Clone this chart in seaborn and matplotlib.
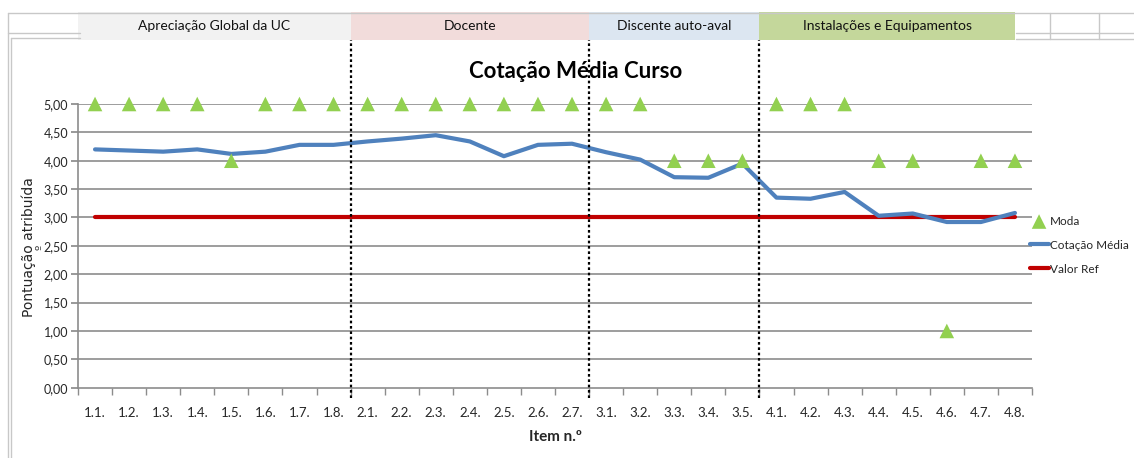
import matplotlib
matplotlib.use("Agg")
import matplotlib.pyplot as plt
import matplotlib.transforms as mtransforms
from matplotlib.patches import Rectangle
from matplotlib.lines import Line2D
import seaborn as sns
import pandas as pd

sns.set_theme(style="white")
plt.rcParams['font.family'] = ['Lato', 'DejaVu Sans']

# Data
items = ["1.1.", "1.2.", "1.3.", "1.4.", "1.5.", "1.6.", "1.7.", "1.8.",
         "2.1.", "2.2.", "2.3.", "2.4.", "2.5.", "2.6.", "2.7.",
         "3.1.", "3.2.", "3.3.", "3.4.", "3.5.",
         "4.1.", "4.2.", "4.3.", "4.4.", "4.5.", "4.6.", "4.7.", "4.8."]
cotacao_media = [4.20, 4.18, 4.16, 4.20, 4.12, 4.16, 4.28, 4.28,
                 4.34, 4.39, 4.45, 4.34, 4.08, 4.28, 4.30,
                 4.15, 4.02, 3.71, 3.70, 3.95,
                 3.35, 3.33, 3.45, 3.03, 3.07, 2.92, 2.92, 3.08]
moda = [5, 5, 5, 5, 4, 5, 5, 5,
        5, 5, 5, 5, 5, 5, 5,
        5, 5, 4, 4, 4,
        5, 5, 5, 4, 4, 1, 4, 4]
valor_ref = [3.0] * len(items)
groups = ["Apreciação Global da UC", "Docente", "Discente auto-aval", "Instalações e Equipamentos"]
group_sizes = [8, 7, 5, 8]
group_colors = ["#f2f2f2", "#f2dcdb", "#dce6f1", "#c4d79b"]

df = pd.DataFrame({"pos": range(len(items)), "item": items,
                   "media": cotacao_media, "moda": moda, "ref": valor_ref})

fig = plt.figure(figsize=(11.34, 4.58), dpi=100)
ax = fig.add_axes([78 / 1134, 1 - 387.7 / 458, (1032 - 78) / 1134, 283.7 / 458])

# gridlines
for v in [i * 0.5 for i in range(1, 11)]:
    ax.axhline(v, color="#8c8c8c", lw=1.2, zorder=0)

sns.lineplot(data=df, x="pos", y="ref", ax=ax, color="#c00000", lw=3, label="Valor Ref", zorder=2)
sns.lineplot(data=df, x="pos", y="media", ax=ax, color="#4f81bd", lw=3, label="Cotação Média", zorder=3)
sns.scatterplot(data=df, x="pos", y="moda", ax=ax, marker="^", s=110, color="#92d050",
                edgecolor="none", label="Moda", zorder=4, clip_on=False)

ax.set_xlim(-0.5, len(items) - 0.5)
ax.set_ylim(0, 5)
ax.set_yticks([i * 0.5 for i in range(11)])
ax.set_yticklabels([f"{i * 0.5:.2f}".replace(".", ",") for i in range(11)], fontsize=9)
ax.set_xticks(range(len(items)))
ax.set_xticklabels(items, fontsize=9.5)
ax.set_xticks([i - 0.5 for i in range(len(items) + 1)], minor=True)
ax.tick_params(axis="x", which="major", length=0, pad=14)
ax.tick_params(axis="x", which="minor", length=5, color="#8c8c8c", direction="out", bottom=True)
ax.tick_params(axis="y", length=5, color="#8c8c8c", direction="out", left=True, pad=2)
for s in ["top", "right"]:
    ax.spines[s].set_visible(False)
for s in ["left", "bottom"]:
    ax.spines[s].set_color("#8c8c8c")
    ax.spines[s].set_linewidth(1.2)

ax.set_xlabel("Item n.º", fontsize=11, fontweight="bold", labelpad=8)
ax.set_ylabel("")
fig.text(29 / 1134, 1 - 247 / 458, "Pontuação atribuída", rotation=90, ha="center",
         va="center", fontsize=10, family="DejaVu Sans")
fig.text(40 / 1134, 1 - 247 / 458, "º", rotation=90, ha="center",
         va="center", fontsize=8, family="DejaVu Sans")

# group header bands and dotted separators
trans = mtransforms.blended_transform_factory(ax.transData, ax.transAxes)
start = -0.5
for name, size, col in zip(groups, group_sizes, group_colors):
    end = start + size
    right = end if end < len(items) - 0.5 else len(items) - 1.0
    ax.add_patch(Rectangle((start, 1.2256), right - start, 0.0987, transform=trans,
                           facecolor=col, edgecolor="none", clip_on=False, zorder=1))
    ax.text((start + right) / 2, 1.275, name, transform=trans, ha="center", va="center",
            fontsize=10, color="#111111", clip_on=False)
    if end < len(items) - 0.5:
        ax.axvline(end, ymin=-0.036, ymax=1.2256, color="black", ls=(0, (1.2, 1.2)),
                   lw=1.6, clip_on=False, zorder=5)
    start = end

fig.text(576 / 1134, 1 - 71 / 458, "Cotação Média Curso", ha="center", va="center",
         fontsize=16, fontweight="bold", color="black")

# spreadsheet cell lines around the chart
for (x0, y0, x1, y1) in [(8, 12.5, 1134, 12.5), (8, 33, 80, 33), (1016, 33, 1134, 33),
                         (1016, 39, 1134, 39), (1050, 12.5, 1050, 39), (1099, 12.5, 1099, 39),
                         (11, 38, 11, 458), (8, 12.5, 8, 458), (11, 38, 80, 38)]:
    fig.add_artist(Line2D([x0 / 1134, x1 / 1134], [1 - y0 / 458, 1 - y1 / 458],
                          color="#c8c8c8", lw=1))

h, l = ax.get_legend_handles_labels()
order = [l.index("Moda"), l.index("Cotação Média"), l.index("Valor Ref")]
ax.legend([h[i] for i in order], [l[i] for i in order], loc="upper left",
          bbox_to_anchor=(1019 / 1134, 1 - 205 / 458), bbox_transform=fig.transFigure,
          frameon=False, fontsize=8.5, handlelength=1.6, handletextpad=0.1, labelspacing=1.1)

fig.savefig("out.png", dpi=100)
